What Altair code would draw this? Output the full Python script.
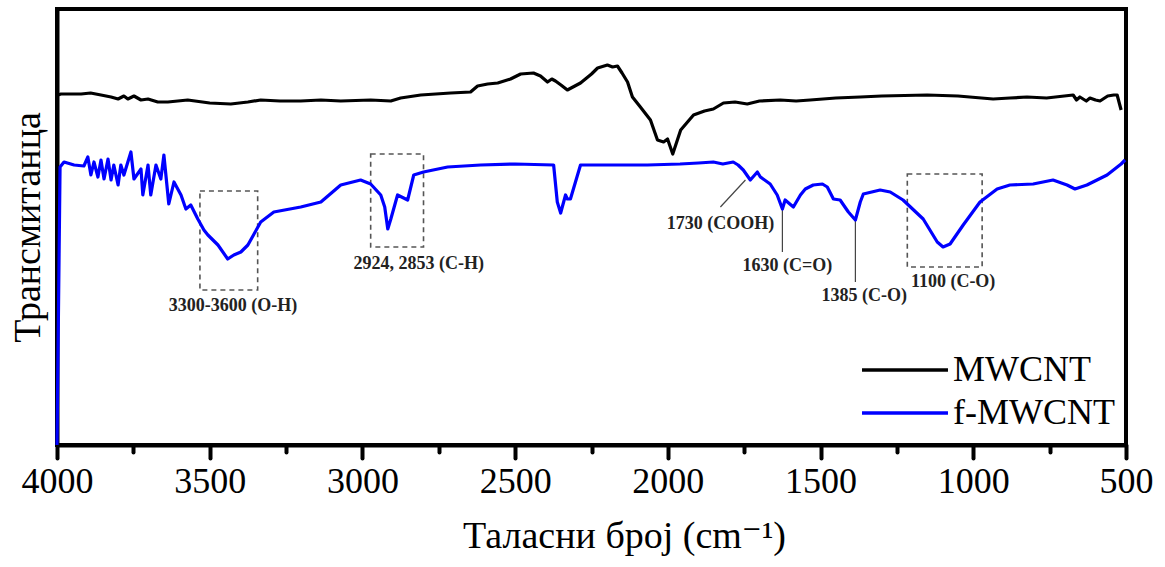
import altair as alt
import pandas as pd

# FTIR spectra: wavenumber (cm^-1) and transmittance (arbitrary units)
mw_wn = [3997, 3987, 3960, 3921, 3890, 3856, 3823, 3800, 3781, 3768, 3748, 3725,
         3702, 3670, 3637, 3572, 3500, 3431, 3375, 3333, 3270, 3202, 3136, 3071,
         2973, 2907, 2875, 2809, 2760, 2711, 2646, 2623, 2590, 2557, 2515, 2482,
         2440, 2417, 2394, 2380, 2368, 2350, 2329, 2286, 2250, 2230, 2198, 2181,
         2165, 2150, 2132, 2116, 2090, 2057, 2034, 2014, 2001, 1984, 1958, 1916,
         1880, 1851, 1818, 1780, 1740, 1700, 1632, 1580, 1534, 1450, 1370, 1300,
         1151, 1050, 935, 880, 824, 760, 673, 662, 651, 630, 618, 600, 585, 560,
         540, 529, 516]
mw_t = [350, 351, 351, 351, 352, 350, 348, 346, 349, 346, 349, 345,
        346, 343, 343, 345, 342, 341, 343, 345, 344, 344, 345, 344,
        345, 344, 347, 350, 351, 352, 353, 359, 361, 362, 366, 371,
        372, 369, 363, 366, 364, 360, 355, 362, 371, 377, 380, 378,
        379, 372, 363, 348, 338, 325, 305, 303, 306, 291, 315, 330,
        334, 336, 342, 343, 341, 344, 345, 344, 345, 347, 348, 349,
        350, 349, 346, 347, 348, 347, 350, 345, 348, 344, 347, 345, 344, 349,
        350, 350, 335]

fmw_wn = [4000, 3990, 3977, 3944, 3912, 3899, 3889, 3879, 3866, 3856, 3846, 3833,
          3823, 3814, 3800, 3791, 3781, 3758, 3748, 3725, 3719, 3702, 3693, 3676,
          3660, 3650, 3634, 3617, 3594, 3578, 3562, 3539, 3519, 3506, 3473, 3441,
          3421, 3398, 3375, 3333, 3290, 3202, 3136, 3071, 3006, 2973, 2940, 2927,
          2917, 2907, 2885, 2865, 2852, 2832, 2800, 2721, 2613, 2500, 2374, 2362,
          2351, 2335, 2329, 2319, 2286, 2200, 2067, 1960, 1900, 1851, 1820, 1786,
          1770, 1753, 1730, 1707, 1697, 1665, 1642, 1625, 1616, 1589, 1566, 1550,
          1524, 1494, 1478, 1458, 1436, 1409, 1386, 1370, 1360, 1305, 1272, 1230,
          1164, 1118, 1099, 1076, 1033, 978, 922, 880, 804, 739, 693, 667, 628,
          562, 516, 503]
fmw_t = [0, 278, 283, 280, 279, 288, 270, 283, 268, 285, 266, 286,
         265, 280, 260, 280, 270, 293, 266, 276, 250, 280, 250, 280,
         266, 290, 241, 263, 250, 236, 240, 226, 215, 210, 200, 186,
         190, 193, 200, 223, 233, 238, 243, 260, 265, 261, 250, 238,
         216, 226, 250, 247, 245, 270, 273, 278, 280, 281, 280, 243,
         232, 250, 246, 246, 280, 280, 280, 281, 282, 283, 281, 283,
         280, 275, 265, 273, 268, 261, 250, 236, 245, 238, 250, 256,
         260, 261, 258, 246, 245, 233, 225, 243, 251, 255, 253, 245,
         226, 203, 198, 201, 220, 243, 256, 260, 261, 265, 260, 256, 260,
         270, 281, 285]

series_names = ["MWCNT", "f-MWCNT"]
series_colors = ["#000000", "#0000ff"]

# dashed boxes around absorption bands
band_lo = [3343, 2800, 971]
band_hi = [3532, 2973, 1216]
band_bottom = [155, 198, 178]
band_top = [254, 291, 271]

# band assignments
label_text = ["3300-3600 (O-H)", "2924, 2853 (C-H)", "1730 (COOH)",
              "1630 (C=O)", "1385 (C-O)", "1100 (C-O)"]
label_wn = [3424, 2816, 1828, 1609, 1357, 1066]
label_t = [139, 181, 221, 179, 149, 163]

# leader lines from labels to peaks
leader_wn = [1828, 1625, 1386]
leader_wn2 = [1746, 1625, 1386]
leader_t = [238, 193, 163]
leader_t2 = [265, 236, 225]

spectra = pd.concat([
    pd.DataFrame({"wn": mw_wn, "t": mw_t, "series": series_names[0]}),
    pd.DataFrame({"wn": fmw_wn, "t": fmw_t, "series": series_names[1]}),
])
bands = pd.DataFrame({"wn": band_lo, "wn2": band_hi, "t": band_bottom, "t2": band_top})
labels = pd.DataFrame({"wn": label_wn, "t": label_t, "text": label_text})
leaders = pd.DataFrame({"wn": leader_wn, "wn2": leader_wn2, "t": leader_t, "t2": leader_t2})

SERIF = "'Liberation Serif', 'Times New Roman', Tinos, 'DejaVu Serif', serif"
X_TITLE = "Таласни број (cm⁻¹)"
Y_TITLE = "Трансмитанца"

x_scale = alt.Scale(domain=[500, 4000], reverse=True, nice=False, zero=False)
y_scale = alt.Scale(domain=[0, 436], nice=False, zero=False)

x_axis = alt.Axis(
    values=list(range(500, 4001, 250)),
    labelExpr="datum.value % 500 === 0 ? datum.label : ''",
    format="d",
    grid=False,
    tickSize={"condition": {"test": "datum.value % 500 === 0", "value": 13}, "value": 7},
    tickWidth=4,
    tickColor="black",
    tickCap="round",
    labelFont=SERIF,
    labelFontSize=36,
    labelColor="black",
    labelPadding=6,
    labelFlush=False,
    labelOverlap=False,
    title=X_TITLE,
    titleFont=SERIF,
    titleFontSize=38,
    titleFontWeight="normal",
    titleColor="black",
    titlePadding=18,
    titleX=567,
)
y_axis = alt.Axis(
    labels=False,
    ticks=False,
    grid=False,
    title=Y_TITLE,
    titleFont=SERIF,
    titleFontSize=38,
    titleFontWeight="normal",
    titleColor="black",
    titlePadding=10,
)

X = alt.X("wn:Q", scale=x_scale, axis=x_axis, title=X_TITLE)
Y = alt.Y("t:Q", scale=y_scale, axis=y_axis, title=Y_TITLE)

lines = alt.Chart(spectra).mark_line(strokeWidth=3.2, strokeJoin="round").encode(
    x=X,
    y=Y,
    order=alt.Order("wn:Q", sort="descending"),
    color=alt.Color(
        "series:N",
        scale=alt.Scale(domain=series_names, range=series_colors),
        legend=alt.Legend(
            title=None,
            orient="none",
            legendX=830,
            legendY=343,
            symbolType="M-4,0H4",
            symbolSize=462,
            symbolStrokeWidth=3.5,
            labelFont=SERIF,
            labelFontSize=36,
            labelColor="black",
            labelOffset=30,
            labelLimit=0,
            rowPadding=7,
            padding=0,
        ),
    ),
)

boxes = alt.Chart(bands).mark_rect(
    fillOpacity=0, stroke="#555555", strokeWidth=1.6, strokeDash=[5, 4]
).encode(x=X, x2="wn2:Q", y=Y, y2="t2:Q")

leader_lines = alt.Chart(leaders).mark_rule(color="#444444", strokeWidth=1.2).encode(
    x=X, x2="wn2:Q", y=Y, y2="t2:Q"
)

texts = alt.Chart(labels).mark_text(
    font=SERIF, fontSize=18, fontWeight="bold", color="#222222", baseline="middle"
).encode(x=X, y=Y, text="text:N")

chart = (
    alt.layer(boxes, leader_lines, lines, texts)
    .properties(
        width=1069,
        height=436,
        autosize=alt.AutoSizeParams(type="none"),
        padding={"left": 57, "top": 9, "right": 39, "bottom": 122},
        background="white",
    )
    .configure_view(stroke="black", strokeWidth=4)
    .configure_axis(domainColor="black", domainWidth=4)
)

chart.save("out.html", embed_options={"renderer": "svg", "actions": False})
